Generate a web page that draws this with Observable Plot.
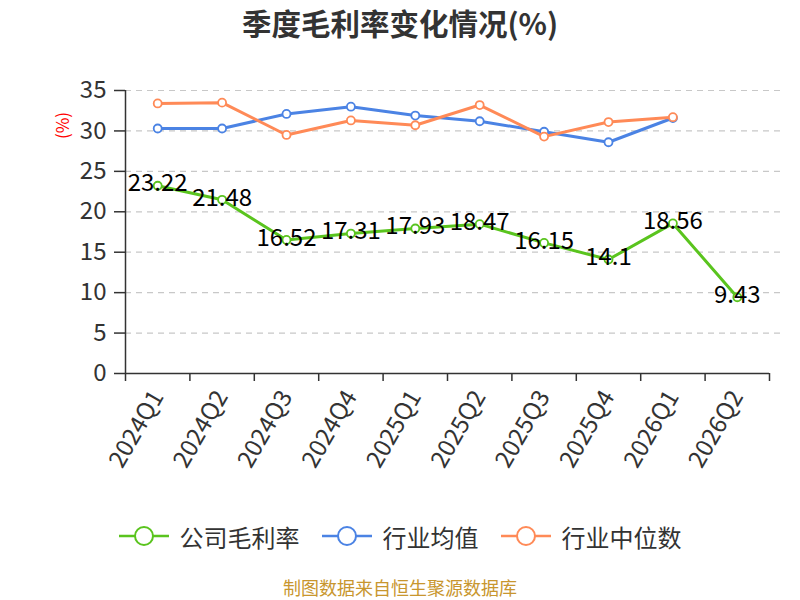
<!DOCTYPE html>
<html>
<head>
<meta charset="utf-8">
<script src="https://cdn.jsdelivr.net/npm/d3@7"></script>
<script src="https://cdn.jsdelivr.net/npm/@observablehq/plot@0.6"></script>
<style>
  body { margin: 0; width: 800px; height: 600px; background: #fff; font-family: "Noto Sans CJK SC", "Noto Sans", sans-serif; overflow: hidden; }
  #title { height: 50px; line-height: 44px; text-align: center; font-size: 29.5px; font-weight: bold; color: #333; }
  #chart { height: 460px; }
  #legend { height: 52px; display: flex; justify-content: center; align-items: center; font-size: 24px; color: #333; }
  .item { display: flex; align-items: center; margin: 0 11px; }
  .item svg { margin-right: 11px; }
  #caption { margin-top: 14px; height: 22px; line-height: 22px; text-align: center; font-size: 18px; color: #c8962e; }
</style>
</head>
<body>
<div id="title">季度毛利率变化情况(%)</div>
<div id="chart"></div>
<div id="legend"></div>
<div id="caption">制图数据来自恒生聚源数据库</div>
<script>
const categories = ["2024Q1","2024Q2","2024Q3","2024Q4","2025Q1","2025Q2","2025Q3","2025Q4","2026Q1","2026Q2"];
const companyMargin = [23.22, 21.48, 16.52, 17.31, 17.93, 18.47, 16.15, 14.1, 18.56, 9.43];
const industryAvg = [30.3, 30.3, 32.1, 33.0, 31.9, 31.2, 29.9, 28.6, 31.6];
const industryMedian = [33.4, 33.5, 29.5, 31.3, 30.7, 33.2, 29.3, 31.1, 31.7];
const yTicks = [0, 5, 10, 15, 20, 25, 30, 35];
const seriesNames = ["公司毛利率", "行业均值", "行业中位数"];
const colors = ["#5ac41e", "#4b83e4", "#ff8a57"];

const toRows = (vals) => vals.map((v, i) => ({i, v}));
const rowsCompany = toRows(companyMargin);
const rowsAvg = toRows(industryAvg);
const rowsMed = toRows(industryMedian);
const idx = categories.map((c, i) => i);
const bounds = categories.map((c, i) => i - 0.5).concat([categories.length - 0.5]);

function series(rows, color) {
  return [
    Plot.line(rows, {x: "i", y: "v", stroke: color, strokeWidth: 3}),
    Plot.dot(rows, {x: "i", y: "v", r: 4, fill: "#fff", stroke: color, strokeWidth: 1.8})
  ];
}

const plot = Plot.plot({
  width: 800,
  height: 460,
  marginTop: 40,
  marginBottom: 137,
  marginLeft: 125,
  marginRight: 31,
  style: {fontFamily: '"Noto Sans CJK SC", "Noto Sans", sans-serif', background: "#fff"},
  x: {type: "linear", domain: [-0.5, categories.length - 0.5]},
  y: {domain: [0, 35]},
  marks: [
    Plot.gridY(yTicks.filter(d => d > 0), {stroke: "#c8c8c8", strokeOpacity: 1, strokeDasharray: "6,5", strokeWidth: 1.2, insetRight: -12}),
    Plot.axisY({ticks: yTicks, tickSize: 11, tickPadding: 8, fontSize: 24, color: "#333", label: null, tickFormat: d => String(d), strokeWidth: 1.5}),
    Plot.axisX({ticks: bounds, tickSize: 8, tickFormat: () => "", label: null, color: "#333", strokeWidth: 1.5}),
    Plot.axisX({ticks: idx, tickSize: 0, tickPadding: 19, tickRotate: -60, fontSize: 24, color: "#333", label: null, tickFormat: i => categories[i]}),
    Plot.ruleX([-0.5], {stroke: "#333", strokeWidth: 1.5}),
    Plot.ruleY([0], {stroke: "#333", strokeWidth: 1.5}),
    Plot.text(["(%)"], {frameAnchor: "top-left", dx: -62, dy: 35, rotate: -90, textAnchor: "middle", lineAnchor: "middle", text: d => d, fill: "red", fontSize: 17}),
    ...series(rowsCompany, colors[0]),
    ...series(rowsAvg, colors[1]),
    ...series(rowsMed, colors[2]),
    Plot.text(rowsCompany, {x: "i", y: "v", text: d => String(d.v), fontSize: 24, fill: "#000", dy: -2})
  ]
});
document.getElementById("chart").appendChild(plot);

const legend = document.getElementById("legend");
seriesNames.forEach((name, k) => {
  const item = document.createElement("div");
  item.className = "item";
  item.innerHTML = `<svg width="50" height="24"><line x1="0" y1="12" x2="50" y2="12" stroke="${colors[k]}" stroke-width="2.5"/><circle cx="25" cy="12" r="9" fill="#fff" stroke="${colors[k]}" stroke-width="2"/></svg><span>${name}</span>`;
  legend.appendChild(item);
});
</script>
</body>
</html>
